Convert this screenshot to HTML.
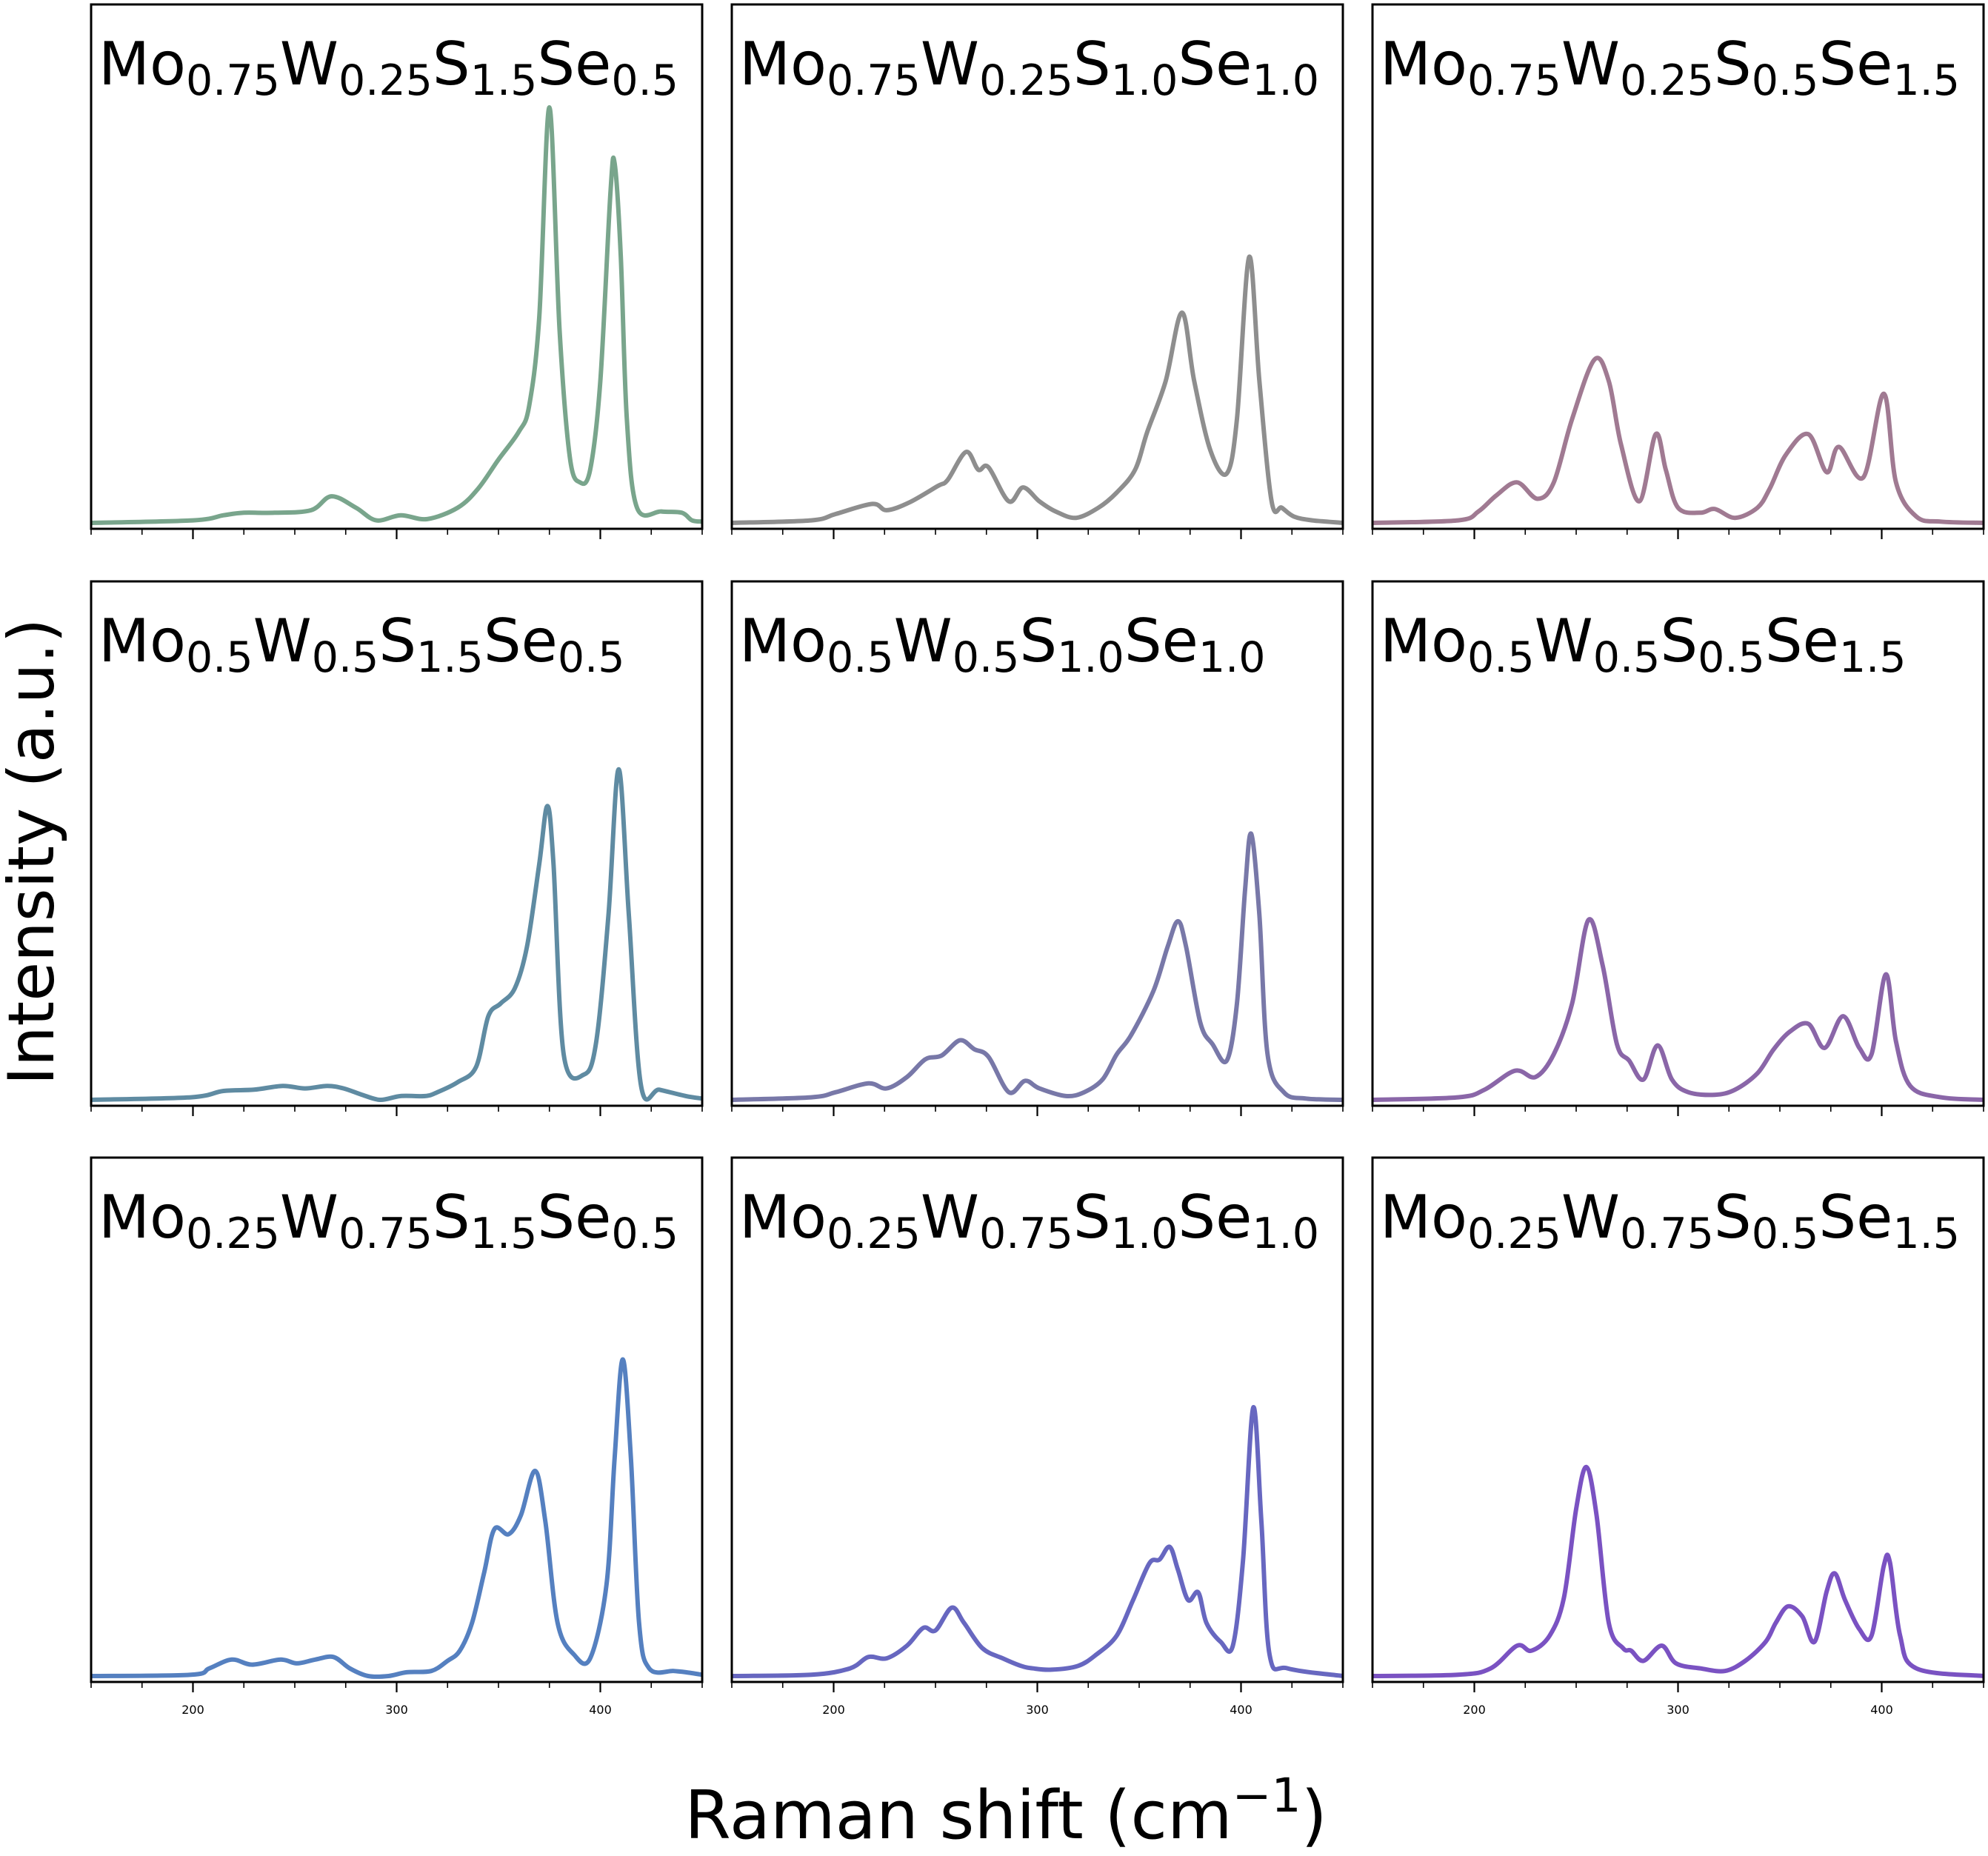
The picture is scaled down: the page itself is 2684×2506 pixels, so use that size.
<!DOCTYPE html>
<html><head><meta charset="utf-8"><style>
html,body{margin:0;padding:0;background:#fff;}
svg{display:block;font-family:"DejaVu Sans","Liberation Sans",sans-serif;}
</style></head><body>
<svg id="fig" width="2684" height="2506" viewBox="0 0 2684 2506" xmlns="http://www.w3.org/2000/svg">
<text x="0" y="0" transform="translate(72,1150) rotate(-90)" text-anchor="middle" font-size="86">Intensity (a.u.)</text>
<text x="1358" y="2482" text-anchor="middle" font-size="90">Raman shift (cm<tspan font-size="63" dy="-36">−1</tspan><tspan dy="36">)</tspan></text>
</svg>
<script>
// Raman shifts (cm^-1) and intensities (a.u.) per panel
const shift1=[150,200,215,225,240,258,268,280,290,302,315,330,340,350,360,365,370,375,380,385,390,395,400,405,407,410,413,418,430,440,445,450];
const inten1=[0,2,6,8,8,10,21,12,2,6,3,12,27,50,72,92,162,328,152,52,32,42,112,262,284,212,82,12,9,8,2,1];
const shift2=[150,189,201,219,226,237,251,256,265,271,276,286,293,301,309,319,330,339,348,354,363,371,377,385,393,398,404,409,415,420,426,435,450];
const inten2=[0,2,7,15,10,16,29,34,56,42,44,17,28,17,9,4,12,24,42,72,112,166,112,57,39,82,210,112,17,12,5,2,0];
const shift3=[150,192,202,211,221,231,239,248,259,266,272,281,289,294,300,311,318,328,339,345,353,364,373,379,391,401,407,417,429,450];
const inten3=[0,2,9,22,32,19,32,82,129,112,62,17,70,42,12,8,11,4,12,27,54,70,40,60,36,102,32,5,1,0];
const shift4=[150,199,215,230,244,255,266,274,283,292,302,314,320,330,339,345,351,358,364,370,374,377,382,392,398,404,409,414,420,429,442,450];
const inten4=[0,2,7,8,11,9,11,9,4,0,3,3,6,14,26,66,76,88,121,186,232,186,36,20,46,146,261,146,11,8,3,1];
const shift5=[150,189,201,217,226,236,245,253,262,269,276,286,294,301,314,323,332,339,346,357,364,369,373,380,386,393,398,402,405,409,413,421,432,450];
const inten5=[0,2,6,13,9,18,32,35,47,40,34,6,15,9,3,6,16,36,51,86,121,141,121,61,44,31,76,166,210,146,36,6,1,0];
const shift6=[150,192,205,220,230,239,248,256,263,270,276,283,290,297,305,318,328,339,347,355,364,372,381,389,395,402,407,414,429,450];
const inten6=[0,2,8,23,18,36,76,142,106,44,31,16,43,16,6,4,8,21,40,54,60,41,66,41,36,99,46,11,2,0];
const shift7=[150,199,208,219,229,243,251,260,269,277,286,296,305,317,325,331,337,343,348,355,361,368,373,379,387,395,403,407,411,415,419,424,436,442,450];
const inten7=[0,1,6,13,9,13,10,13,15,6,0,0,3,4,12,20,42,82,116,112,127,162,122,42,17,14,72,172,250,172,42,6,4,3,1];
const shift8=[150,189,208,217,226,236,244,250,258,264,273,283,292,298,307,320,329,339,347,355,360,365,369,374,379,383,390,396,401,406,410,414,423,450];
const inten8=[0,1,6,15,14,24,38,36,54,42,22,14,8,6,5,8,17,32,60,89,92,102,84,60,66,42,27,24,92,212,122,17,6,0];
const shift9=[150,192,208,221,228,237,244,250,255,260,266,273,277,283,292,299,311,323,333,343,348,354,361,367,373,377,382,389,395,401,404,409,417,450];
const inten9=[0,1,6,24,20,32,62,132,165,127,42,22,20,12,24,10,6,4,12,27,42,55,47,27,67,81,60,37,32,87,90,32,6,0];
const titles=[["Mo","0.75","W","0.25","S","1.5","Se","0.5"],["Mo","0.75","W","0.25","S","1.0","Se","1.0"],["Mo","0.75","W","0.25","S","0.5","Se","1.5"],
["Mo","0.5","W","0.5","S","1.5","Se","0.5"],["Mo","0.5","W","0.5","S","1.0","Se","1.0"],["Mo","0.5","W","0.5","S","0.5","Se","1.5"],
["Mo","0.25","W","0.75","S","1.5","Se","0.5"],["Mo","0.25","W","0.75","S","1.0","Se","1.0"],["Mo","0.25","W","0.75","S","0.5","Se","1.5"]];
const colors=["#79a58c","#8e8e8e","#a07a92","#5f8ba2","#7878a8","#8a66a8","#5580c0","#6767c0","#7a52c2"];
const tickLabels=[200,300,400];
const shifts=[shift1,shift2,shift3,shift4,shift5,shift6,shift7,shift8,shift9];
const intens=[inten1,inten2,inten3,inten4,inten5,inten6,inten7,inten8,inten9];

const NS="http://www.w3.org/2000/svg";
const svg=document.getElementById('fig');
const lefts=[123,988,1853], tops=[6,785,1563], W=825, H=708;
function mk(t,a){const e=document.createElementNS(NS,t);for(const k in a)e.setAttribute(k,a[k]);return e;}
function smooth(p){let d="M"+p[0][0]+","+p[0][1];for(let i=0;i<p.length-1;i++){const p0=p[Math.max(0,i-1)],p1=p[i],p2=p[i+1],p3=p[Math.min(p.length-1,i+2)];
const c1x=p1[0]+(p2[0]-p0[0])/6,c1y=p1[1]+(p2[1]-p0[1])/6,c2x=p2[0]-(p3[0]-p1[0])/6,c2y=p2[1]-(p3[1]-p1[1])/6;
d+=" C"+c1x.toFixed(1)+","+c1y.toFixed(1)+" "+c2x.toFixed(1)+","+c2y.toFixed(1)+" "+p2[0].toFixed(1)+","+p2[1].toFixed(1);}return d;}
for(let i=0;i<9;i++){
  const r=Math.floor(i/3),c=i%3,L=lefts[c],T=tops[r],B=T+H;
  const xs=v=>L+(v-150)/300*W, ys=v=>B-8-v*1.71;
  const g=mk('g',{});
  
  
  svg.appendChild(g);
  const pts=shifts[i].map((s,k)=>[xs(s),ys(intens[i][k])]);
  const path=mk('path',{d:smooth(pts),fill:'none',stroke:colors[i],'stroke-width':6,'stroke-linejoin':'round'});
  
  
  g.appendChild(path);
  const fr=mk('rect',{x:L,y:T,width:W,height:H,fill:'none',stroke:'#000','stroke-width':3});
  
  
  g.appendChild(fr);
  for(let v=150;v<=450;v+=25){
    const major=tickLabels.includes(v);
    const tk=mk('line',{x1:xs(v),x2:xs(v),y1:B,y2:B+(major?14:8),stroke:'#000','stroke-width':major?2.2:1.6});
    
    
    g.appendChild(tk);
    if(major&&r===2){const tl=mk('text',{x:xs(v),y:B+43,'text-anchor':'middle','font-size':16});
      tl.textContent=v;
      
      
      g.appendChild(tl);}
  }
  const t=mk('text',{x:L+10,y:T+108,'font-size':80});
  
  
  titles[i].forEach((s,k)=>{const ts=mk('tspan',{});ts.textContent=s;
    if(k%2===1){ts.setAttribute('font-size','57');ts.setAttribute('dy','14');}
    else if(k>0){ts.setAttribute('dy','-14');}
    t.appendChild(ts);});
  g.appendChild(t);
}
</script>
</body></html>
